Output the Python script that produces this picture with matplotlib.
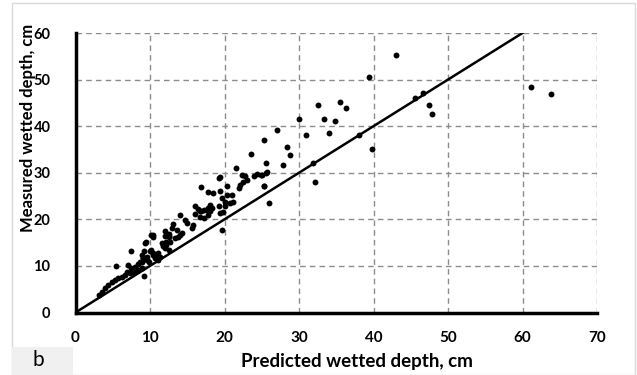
import numpy as np
import matplotlib.pyplot as plt
from matplotlib.patches import Rectangle

# predicted vs measured wetted depth (cm)
predicted = [
    3.1, 3.5, 4.0, 4.4, 4.9, 5.3, 5.7, 6.2, 6.6, 5.5, 6.9, 7.3, 7.8, 8.4, 8.9,
    7.1, 7.5, 8.0, 8.4, 8.9, 9.2, 7.5, 8.7, 9.1, 9.6, 9.8, 10.7, 11.1, 9.2, 10.2,
    10.4, 9.5, 11.6, 12.0, 12.5, 12.2, 12.0, 12.5, 10.4, 12.0, 12.5, 10.2, 10.4,
    9.3, 12.2, 11.8, 10.0, 10.4, 10.9, 8.9, 9.1, 9.6, 11.1, 11.3,
    14.0, 14.7, 14.9, 15.8, 15.6, 13.1, 12.9, 13.6, 14.3, 13.8, 12.5, 12.7, 12.0,
    13.4, 14.0, 19.6,
    16.0, 16.5, 16.9, 16.7, 17.6, 17.8, 17.2, 18.1, 18.3, 16.9, 17.8, 18.5, 19.4,
    20.3, 19.3, 19.6, 19.3, 20.1, 20.4, 16.0, 16.7, 17.2, 17.8, 18.1, 19.4, 19.8,
    20.1, 21.0, 21.2, 20.7, 21.6, 22.4, 22.8, 23.0, 22.5, 22.1, 21.9, 25.3, 19.4,
    23.6, 24.0, 24.4, 25.0, 25.6, 25.7, 24.9, 25.3, 26.0, 27.8, 25.6, 25.3, 27.0,
    28.4, 28.8, 31.9, 32.1, 31.0, 34.0, 30.0, 33.3, 34.8, 32.6, 35.5, 36.3, 38.0,
    39.8, 39.4, 43.0, 45.6, 46.6, 47.4, 47.8, 61.2, 63.8,
]
measured = [
    3.8, 4.5, 5.2, 5.9, 6.6, 7.0, 7.4, 7.7, 8.1, 10.0, 8.8, 8.4, 8.8, 9.1, 9.5,
    10.2, 9.5, 9.8, 10.4, 10.8, 7.9, 13.1, 10.9, 11.7, 12.0, 10.9, 11.7, 12.7, 13.1, 13.4,
    12.4, 15.1, 14.9, 13.8, 13.4, 15.2, 17.4, 16.3, 16.7, 16.4, 16.9, 16.7, 16.3,
    14.9, 14.5, 14.2, 13.1, 12.7, 12.4, 12.4, 11.7, 11.3, 11.3, 12.0,
    21.0, 19.9, 19.2, 18.8, 18.1, 19.0, 18.1, 17.7, 17.0, 16.3, 16.5, 15.2, 14.9,
    16.0, 16.7, 17.7,
    22.8, 22.3, 21.7, 20.6, 22.0, 21.0, 20.3, 21.7, 22.4, 26.9, 25.8, 25.6, 26.0,
    27.1, 28.9, 24.6, 22.8, 23.8, 25.3, 21.1, 21.8, 22.0, 22.4, 23.1, 21.3, 21.5,
    22.8, 25.3, 23.8, 23.5, 31.0, 29.6, 29.2, 28.5, 28.1, 27.4, 26.8, 27.1, 29.0,
    34.0, 29.2, 29.7, 29.6, 30.0, 30.1, 29.6, 27.1, 23.5, 31.7, 32.1, 37.1, 39.1,
    35.6, 33.9, 32.1, 28.0, 38.0, 38.6, 41.6, 41.6, 41.1, 44.6, 45.1, 43.9, 38.0,
    35.1, 50.6, 55.2, 46.1, 47.1, 44.6, 42.6, 48.5, 47.0,
]
line_x = [0, 60]
line_y = [0, 60]

fig = plt.figure(figsize=(6.37, 3.75), dpi=100)
plt.rcParams['font.family'] = ['Lato', 'DejaVu Sans']

# chart area border and the panel letter box
fig.patches.append(Rectangle((12/637, 0), 623/637, 372/375, transform=fig.transFigure,
                             fill=False, edgecolor='#d9d9d9', linewidth=1))
fig.patches.append(Rectangle((12/637, 0), 61/637, 28/375, transform=fig.transFigure,
                             facecolor='#f0f0f0', edgecolor='none'))
fig.text(38/637, 1 - 360/375, 'b', fontsize=15, ha='center', va='center')

ax = fig.add_axes([75.5/637, 1 - 312.5/375, (597 - 75.5)/637, (312.5 - 33)/375])
ax.scatter(predicted, measured, s=18, color='black', zorder=3, linewidths=0)
ax.plot(line_x, line_y, color='black', linewidth=1.8, zorder=2)

ax.set_xlim(0, 70)
ax.set_ylim(0, 60)
ax.set_xticks(np.arange(0, 71, 10))
ax.set_yticks(np.arange(0, 61, 10))
ax.grid(True, color='#8c8c8c', linestyle=(0, (4, 3)), linewidth=1)
ax.set_axisbelow(True)
for s in ['top', 'right']:
    ax.spines[s].set_visible(False)
for s in ['left', 'bottom']:
    ax.spines[s].set_linewidth(2.5)
ax.tick_params(length=0)
ax.tick_params(axis='x', pad=13, labelsize=11)
ax.tick_params(axis='y', pad=18, labelsize=10.5)
for lbl in ax.get_xticklabels() + ax.get_yticklabels():
    lbl.set_fontweight('bold')

ax.set_xlabel('Predicted wetted depth, cm', fontsize=13.5, fontweight='bold')
ax.xaxis.set_label_coords(0.54, -0.145)
ax.set_ylabel('Measured wetted depth, cm', fontsize=12, fontweight='bold')
ax.yaxis.set_label_coords(-0.076, 0.66)

fig.savefig('out.png', dpi=100)
